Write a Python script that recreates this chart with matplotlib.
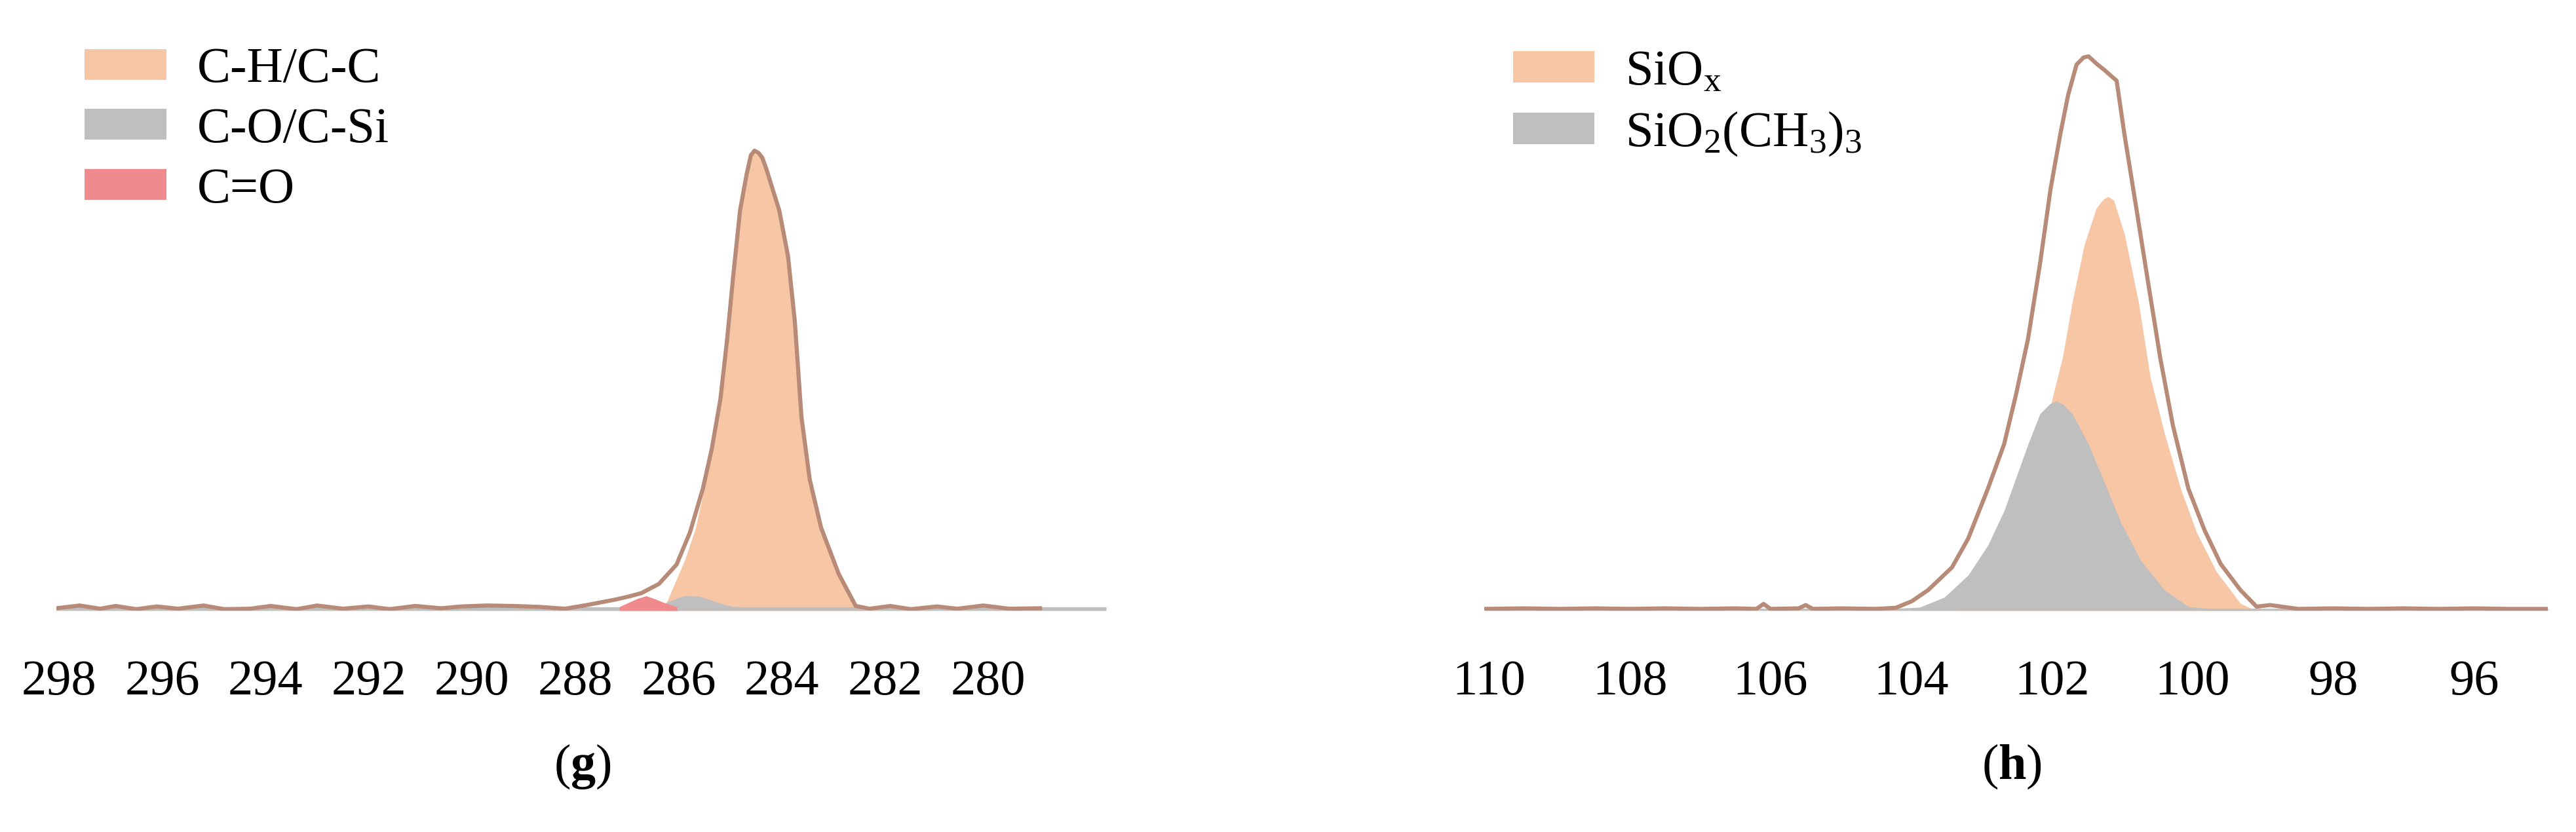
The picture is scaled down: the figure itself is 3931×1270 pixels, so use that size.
import matplotlib
matplotlib.use("Agg")
import matplotlib.pyplot as plt
from matplotlib.patches import Patch

plt.rcParams['font.family'] = ['Liberation Serif', 'DejaVu Serif']
plt.rcParams['mathtext.fontset'] = 'custom'
plt.rcParams['mathtext.rm'] = 'Liberation Serif'
plt.rcParams['mathtext.it'] = 'Liberation Serif:italic'
plt.rcParams['mathtext.bf'] = 'Liberation Serif:bold'
plt.rcParams['mathtext.default'] = 'regular'

# ---- (g) C 1s ----
c1s_be = [298.05, 297.6, 297.2, 296.9, 296.5, 296.1, 295.7, 295.2, 294.8, 294.3, 293.9,
          293.4, 293.0, 292.5, 292.0, 291.6, 291.1, 290.6, 290.2, 289.7, 289.2, 288.7,
          288.2, 287.78, 287.5, 287.22, 286.95, 286.72, 286.38, 286.04, 285.78, 285.53,
          285.36, 285.19, 285.06, 284.94, 284.81, 284.68, 284.60, 284.53, 284.45, 284.38,
          284.30, 284.05, 283.88, 283.75, 283.62, 283.46, 283.24, 282.90, 282.57, 282.3,
          281.9, 281.5, 281.0, 280.6, 280.1, 279.6, 279.0]
c1s_env = [0.005, 0.011, 0.004, 0.010, 0.003, 0.009, 0.004, 0.011, 0.003, 0.004, 0.010,
           0.003, 0.011, 0.004, 0.009, 0.003, 0.010, 0.005, 0.009, 0.011, 0.010, 0.008,
           0.004, 0.012, 0.018, 0.024, 0.031, 0.038, 0.058, 0.10, 0.17, 0.265,
           0.35, 0.46, 0.59, 0.73, 0.87, 0.95, 0.99, 1.0, 0.995, 0.985,
           0.96, 0.87, 0.77, 0.63, 0.42, 0.285, 0.18, 0.08, 0.01, 0.004,
           0.010, 0.003, 0.009, 0.004, 0.011, 0.004, 0.005]

chcc_be = [286.3, 286.08, 285.87, 285.67, 285.47, 285.30, 285.19, 285.06, 284.94, 284.81,
           284.68, 284.60, 284.53, 284.45, 284.38, 284.30, 284.05, 283.88, 283.75, 283.62,
           283.46, 283.24, 282.90, 282.57, 282.4]
chcc_int = [0.0, 0.058, 0.113, 0.18, 0.285, 0.38, 0.455, 0.585, 0.725, 0.865,
            0.945, 0.985, 0.995, 0.99, 0.98, 0.955, 0.865, 0.765, 0.625, 0.415,
            0.28, 0.175, 0.075, 0.006, 0.0]

cosi_be = [298.05, 286.4, 286.23, 286.0, 285.9, 285.6, 285.4, 285.2, 284.96, 284.8, 277.72]
cosi_int = [0.008, 0.008, 0.018, 0.028, 0.032, 0.031, 0.024, 0.016, 0.009, 0.008, 0.008]

co_be = [287.15, 287.0, 286.8, 286.63, 286.45, 286.25, 286.03]
co_int = [0.008, 0.016, 0.026, 0.032, 0.025, 0.016, 0.008]

# ---- (h) Si 2p ----
si_be = [110.07, 109.5, 109.0, 108.5, 108.0, 107.5, 107.0, 106.5, 106.2, 106.1, 106.0,
         105.6, 105.5, 105.4, 105.0, 104.5, 104.22, 103.99, 103.76, 103.42, 103.19,
         102.91, 102.68, 102.51, 102.34, 102.17, 102.02, 101.88, 101.77, 101.65, 101.55,
         101.48, 101.35, 101.26, 101.08, 100.97, 100.80, 100.63, 100.46, 100.28, 100.06,
         99.83, 99.60, 99.32, 99.09, 98.9, 98.5, 98.0, 97.5, 97.0, 96.5, 96.0, 95.5, 94.95]
si_env = [0.003, 0.004, 0.003, 0.004, 0.003, 0.004, 0.003, 0.004, 0.003, 0.012, 0.003,
          0.004, 0.010, 0.003, 0.004, 0.003, 0.005, 0.017, 0.037, 0.078, 0.13,
          0.22, 0.30, 0.39, 0.49, 0.625, 0.76, 0.86, 0.93, 0.985, 0.998,
          1.0, 0.985, 0.976, 0.956, 0.86, 0.726, 0.59, 0.456, 0.334, 0.22,
          0.145, 0.084, 0.037, 0.007, 0.010, 0.003, 0.004, 0.003, 0.004, 0.003, 0.004, 0.003, 0.003]

siox_be = [103.4, 103.0, 102.6, 102.3, 102.0, 101.85, 101.71, 101.54, 101.37, 101.27,
           101.20, 101.12, 100.97, 100.77, 100.60, 100.40, 100.17, 99.94, 99.66, 99.32, 99.1]
siox_int = [0.0, 0.03, 0.11, 0.22, 0.38, 0.456, 0.557, 0.66, 0.726, 0.742,
            0.747, 0.74, 0.68, 0.557, 0.42, 0.32, 0.22, 0.14, 0.07, 0.013, 0.0]

sime_be = [110.07, 104.2, 103.88, 103.53, 103.19, 102.91, 102.68, 102.51, 102.34, 102.17,
           102.03, 101.94, 101.84, 101.71, 101.48, 101.26, 101.02, 100.74, 100.40, 100.06,
           99.8, 94.95]
sime_int = [0.004, 0.004, 0.006, 0.024, 0.064, 0.118, 0.18, 0.24, 0.30, 0.355,
            0.373, 0.378, 0.372, 0.355, 0.30, 0.233, 0.159, 0.091, 0.037, 0.007,
            0.004, 0.004]

c1s_ticks = [298, 296, 294, 292, 290, 288, 286, 284, 282, 280]
si_ticks = [110, 108, 106, 104, 102, 100, 98, 96]

ORANGE = '#F7C6A4'
GRAY = '#BFBFBF'
RED = '#F08A8C'
LINE = '#B88B78'
FS = 55

W, H = 3931, 1270
fig = plt.figure(figsize=(W / 100, H / 100), dpi=100)

base_y = (H - 932) / H
top_y = (H - 60) / H
ax1 = fig.add_axes([86 / W, base_y, (1688 - 86) / W, top_y - base_y])
ax2 = fig.add_axes([2265 / W, base_y, (3888 - 2265) / W, top_y - base_y])

ax1.fill_between(chcc_be, chcc_int, color=ORANGE, lw=0)
ax1.fill_between(cosi_be, cosi_int, color=GRAY, lw=0)
ax1.fill_between(co_be, co_int, color=RED, lw=0)
ax1.plot(c1s_be, c1s_env, color=LINE, lw=4.5, solid_joinstyle='round')
ax1.set_xlim(298.05, 277.72)
ax1.set_ylim(0, 872 / 702)
ax1.set_xticks(c1s_ticks)

ax2.fill_between(siox_be, siox_int, color=ORANGE, lw=0)
ax2.fill_between(sime_be, sime_int, color=GRAY, lw=0)
ax2.plot(si_be, si_env, color=LINE, lw=4.5, solid_joinstyle='round')
ax2.set_xlim(110.07, 94.95)
ax2.set_ylim(0, 872 / 846)
ax2.set_xticks(si_ticks)

for ax in (ax1, ax2):
    for s in ax.spines.values():
        s.set_visible(False)
    ax.set_yticks([])
    ax.tick_params(axis='x', length=0, pad=54, labelsize=FS)

h1 = [Patch(color=ORANGE, lw=0), Patch(color=GRAY, lw=0), Patch(color=RED, lw=0)]
fig.legend(h1, ['C-H/C-C', 'C-O/C-Si', 'C=O'], loc='upper left',
           bbox_to_anchor=(129 / W, 1 - 72 / H), frameon=False, fontsize=FS,
           borderpad=0, borderaxespad=0, handlelength=1.63, handleheight=0.57,
           handletextpad=0.62, labelspacing=0.3)

h2 = [Patch(color=ORANGE, lw=0), Patch(color=GRAY, lw=0)]
fig.legend(h2, [r'SiO$_{x}$', r'SiO$_{2}$(CH$_{3}$)$_{3}$'], loc='upper left',
           bbox_to_anchor=(2309 / W, 1 - 76 / H), frameon=False, fontsize=FS,
           borderpad=0, borderaxespad=0, handlelength=1.62, handleheight=0.59,
           handletextpad=0.62, labelspacing=0.3)

fig.text(889 / W, 1 - 1170 / H, r'($\mathbf{g}$)', ha='center', va='center', fontsize=FS)
fig.text(3070 / W, 1 - 1170 / H, r'($\mathbf{h}$)', ha='center', va='center', fontsize=FS)

fig.savefig('out.png', dpi=100, facecolor='white')
